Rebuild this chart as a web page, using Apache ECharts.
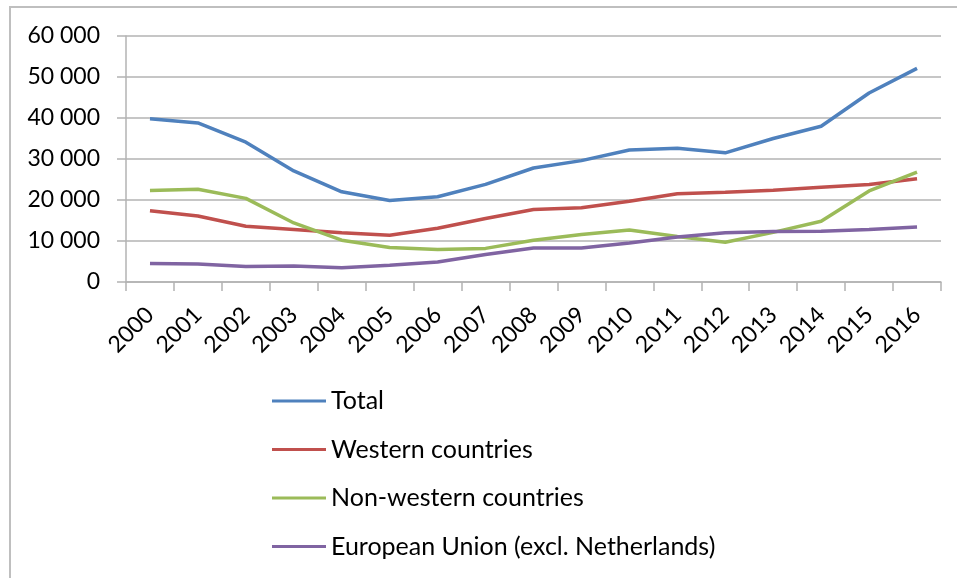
<!DOCTYPE html>
<html>
<head>
<meta charset="utf-8">
<script src="https://cdn.jsdelivr.net/npm/echarts@6/dist/echarts.min.js"></script>
<style>
html,body{margin:0;padding:0;background:#fff;}
#frame{position:absolute;left:9px;top:6px;width:960px;height:600px;border-left:2px solid #BFBFBF;border-top:2px solid #BFBFBF;box-sizing:border-box;}
#chart{position:absolute;left:0;top:0;width:957px;height:578px;}
</style>
</head>
<body>
<div id="frame"></div>
<div id="chart"></div>
<script>
const years = ['2000','2001','2002','2003','2004','2005','2006','2007','2008','2009','2010','2011','2012','2013','2014','2015','2016'];
const total = [39800,38800,34100,27100,22000,19900,20800,23800,27800,29600,32200,32600,31500,35000,38000,46100,52100];
const western = [17400,16100,13600,12800,12000,11400,13100,15500,17700,18100,19700,21500,21900,22400,23100,23800,25200];
const nonWestern = [22300,22600,20400,14400,10200,8400,7900,8200,10200,11600,12700,11100,9700,12100,14800,22200,26800];
const eu = [4500,4400,3800,3900,3500,4100,4900,6700,8300,8300,9500,11000,12000,12300,12400,12800,13400];
const seriesNames = ['Total','Western countries','Non-western countries','European Union (excl. Netherlands)'];
const colors = ['#4F81BD','#C0504D','#9BBB59','#8064A2'];
const seriesData = [total, western, nonWestern, eu];

const FONT = 'Lato';
const chart = echarts.init(document.getElementById('chart'), null, {renderer:'canvas'});
chart.setOption({
  animation:false,
  color: colors,
  textStyle:{fontFamily:FONT},
  grid:{left:126, right:16, top:36, bottom:296, containLabel:false},
  legend:{
    orient:'vertical', left:267, top:382,
    icon:'rect', itemWidth:54, itemHeight:3, itemGap:20.5,
    textStyle:{fontFamily:FONT, fontSize:25, lineHeight:28, color:'#000', padding:[0,0,0,0]},
    data: seriesNames
  },
  xAxis:{
    type:'category', data:years, boundaryGap:true,
    axisLine:{lineStyle:{color:'#B3B3B3', width:1.5}},
    axisTick:{show:true, length:9, lineStyle:{color:'#B3B3B3', width:1.5}},
    axisLabel:{rotate:45, margin:29, fontFamily:FONT, fontSize:23, color:'#000'}
  },
  yAxis:{
    type:'value', min:0, max:60000, interval:10000,
    axisLine:{show:true, lineStyle:{color:'#B3B3B3', width:1.5}},
    axisTick:{show:true, length:9, lineStyle:{color:'#B3B3B3', width:1.5}},
    splitLine:{lineStyle:{color:'#B3B3B3', width:1.5}},
    axisLabel:{margin:26, fontFamily:FONT, fontSize:23, color:'#000',
      formatter:v=>String(v).replace(/\B(?=(\d{3})+(?!\d))/g,' ')}
  },
  series: seriesNames.map((n,i)=>({
    name:n, type:'line', data:seriesData[i], symbol:'none',
    lineStyle:{width:3.5, color:colors[i]}, itemStyle:{color:colors[i]}
  }))
});
</script>
</body>
</html>
